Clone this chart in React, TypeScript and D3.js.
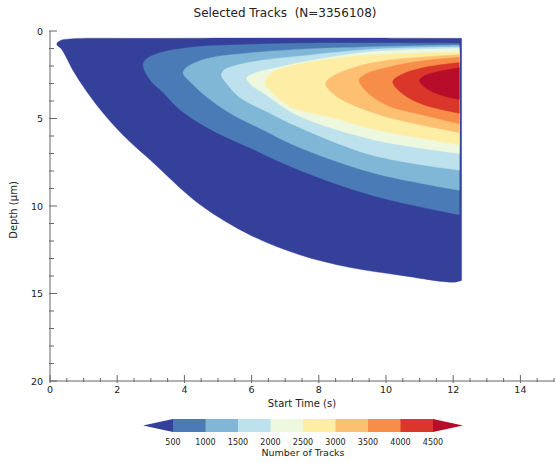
import React from "react";
import * as d3 from "d3";

// ---- data (time in s, depth in µm) ----
const contourLevels = [0, 500, 1000, 1500, 2000, 2500, 3000, 3500, 4000, 4500];
const colorbarTicks = [500, 1000, 1500, 2000, 2500, 3000, 3500, 4000, 4500];
const xTicks = [0, 2, 4, 6, 8, 10, 12, 14];
const yTicks = [0, 5, 10, 15, 20];

const outlineOuter: [number, number][] = [[12.25, 0.42], [8, 0.4], [3, 0.42], [0.6, 0.45], [0.3, 0.55], [0.2, 0.75], [0.35, 1.05], [0.7, 2.3], [1.0, 3.2], [1.5, 4.5], [2.2, 6.0], [3.0, 7.4], [4.45, 9.9], [5.95, 11.65], [7.45, 12.8], [8.9, 13.5], [10.4, 13.95], [12.0, 14.35], [12.25, 14.25]];
const outline500: [number, number][] = [[12.18, 0.7], [9, 0.68], [7.35, 0.7], [5.36, 0.8], [4.37, 0.9], [3.36, 1.2], [2.9, 1.55], [2.77, 1.9], [2.98, 2.8], [3.36, 3.5], [3.87, 4.5], [4.85, 5.7], [5.86, 6.6], [7.35, 7.9], [9.6, 9.4], [12.18, 10.5]];
const outline1000: [number, number][] = [[12.18, 0.8], [10, 0.88], [7.35, 1.05], [5.86, 1.27], [4.85, 1.5], [4.37, 1.77], [4.05, 2.1], [3.96, 2.4], [4.17, 2.9], [4.67, 3.77], [5.36, 4.7], [6.35, 5.66], [7.35, 6.6], [9.6, 8.1], [12.18, 9.1]];
const outline1500: [number, number][] = [[12.18, 0.9], [9.5, 1.05], [7.35, 1.45], [6.35, 1.66], [5.57, 1.94], [5.2, 2.2], [5.1, 2.5], [5.3, 3.1], [5.65, 3.8], [6.55, 4.7], [7.35, 5.45], [9.6, 7.1], [12.18, 7.95]];
const outline2000: [number, number][] = [[12.18, 1.0], [9.5, 1.2], [7.44, 1.8], [6.85, 2.05], [6.1, 2.4], [5.85, 2.7], [6.0, 3.1], [6.4, 3.6], [7.35, 4.8], [9.6, 6.2], [12.18, 7.0]];
const outline2500: [number, number][] = [[12.18, 1.2], [9.0, 1.45], [7.14, 2.0], [6.6, 2.4], [6.4, 2.9], [6.6, 3.5], [7.14, 4.3], [8.5, 5.0], [9.6, 5.6], [12.18, 6.5]];
const outline3000: [number, number][] = [[12.18, 1.35], [10.1, 1.66], [9.1, 2.05], [8.4, 2.6], [8.2, 3.0], [8.5, 3.7], [9.1, 4.3], [10.1, 4.95], [12.18, 5.8]];
const outline3500: [number, number][] = [[12.18, 1.5], [11.1, 1.7], [10.1, 2.05], [9.4, 2.45], [9.2, 2.8], [9.5, 3.6], [10.1, 4.3], [11.1, 4.8], [12.18, 5.3]];
const outline4000: [number, number][] = [[12.18, 1.8], [11.1, 2.1], [10.45, 2.5], [10.2, 2.9], [10.5, 3.6], [11.1, 4.2], [12.18, 4.7]];
const outline4500: [number, number][] = [[12.18, 2.1], [11.6, 2.3], [11.1, 2.6], [11.0, 2.85], [11.3, 3.4], [11.8, 3.75], [12.18, 3.9]];

const outlines = [outlineOuter, outline500, outline1000, outline1500, outline2000, outline2500, outline3000, outline3500, outline4000, outline4500];

const bandColors = ["#34409a", "#4a7bb7", "#80b7d6", "#bde2ee", "#eef8df", "#feeea5", "#fdbf71", "#f68e49", "#da362a", "#b80d2a"];

const FONT = "'DejaVu Sans', sans-serif";

export default function App() {
  const W = 556, H = 463;
  const x = d3.scaleLinear().domain([0, 15]).range([50, 554]);
  const y = d3.scaleLinear().domain([0, 20]).range([31, 381]);

  const line = d3
    .line<[number, number]>()
    .x((d) => x(d[0]))
    .y((d) => y(d[1]))
    .curve(d3.curveCatmullRom.alpha(0.5));

  const xMinor = d3.range(0, 15.01, 0.5).filter((v) => !xTicks.includes(v));
  const yMinor = d3.range(0, 20.01, 1).filter((v) => !yTicks.includes(v));

  // colorbar
  const cb = d3.scaleLinear().domain([500, 4500]).range([173, 433]);
  const cbTop = 419, cbBot = 432, cbArrow = 30;
  const cbMid = (cbTop + cbBot) / 2;

  const axisColor = "#666";
  const textColor = "#222";

  return (
    <svg width={W} height={H} style={{ position: "absolute", left: 0, top: 0, background: "#fff" }}>
      <text x={285} y={17} textAnchor="middle" fontFamily={FONT} fontSize={12} fill={textColor} style={{ whiteSpace: "pre" }}>
        {"Selected Tracks  (N=3356108)"}
      </text>

      {/* contour bands */}
      {outlines.map((o, i) => (
        <path key={contourLevels[i]} d={(line(o) || "") + "Z"} fill={bandColors[i]} stroke={bandColors[i]} strokeWidth={0.4} />
      ))}

      {/* axes */}
      <line x1={x(0)} x2={x(0)} y1={y(0)} y2={y(20)} stroke={axisColor} strokeWidth={1} />
      <line x1={x(0)} x2={x(15)} y1={y(20)} y2={y(20)} stroke={axisColor} strokeWidth={1} />
      {yTicks.map((v) => (
        <g key={"yt" + v}>
          <line x1={x(0) - 1} x2={x(0) + 7} y1={y(v)} y2={y(v)} stroke={axisColor} />
          <text x={x(0) - 7} y={y(v) + 3.5} textAnchor="end" fontFamily={FONT} fontSize={9.5} fill={textColor}>
            {v}
          </text>
        </g>
      ))}
      {yMinor.map((v) => (
        <line key={"ym" + v} x1={x(0) - 1} x2={x(0) + 4} y1={y(v)} y2={y(v)} stroke={axisColor} />
      ))}
      {xTicks.map((v) => (
        <g key={"xt" + v}>
          <line x1={x(v)} x2={x(v)} y1={y(20) + 2} y2={y(20) - 6} stroke={axisColor} />
          <text x={x(v)} y={y(20) + 12} textAnchor="middle" fontFamily={FONT} fontSize={9.5} fill={textColor}>
            {v}
          </text>
        </g>
      ))}
      {xMinor.map((v) => (
        <line key={"xm" + v} x1={x(v)} x2={x(v)} y1={y(20) + 1} y2={y(20) - 3} stroke={axisColor} />
      ))}
      <text x={(x(0) + x(15)) / 2} y={407} textAnchor="middle" fontFamily={FONT} fontSize={10} fill={textColor}>
        Start Time (s)
      </text>
      <text
        transform={`translate(17,${(y(0) + y(20)) / 2 + 4}) rotate(-90)`}
        textAnchor="middle"
        fontFamily={FONT}
        fontSize={10}
        fill={textColor}
      >
        Depth (μm)
      </text>

      {/* colorbar */}
      <path d={`M${cb(500)},${cbTop}L${cb(500) - cbArrow},${cbMid}L${cb(500)},${cbBot}Z`} fill={bandColors[0]} />
      {colorbarTicks.slice(0, -1).map((v, i) => (
        <rect key={"cb" + v} x={cb(v)} y={cbTop} width={cb(v + 500) - cb(v) + 0.5} height={cbBot - cbTop} fill={bandColors[i + 1]} />
      ))}
      <path d={`M${cb(4500)},${cbTop}L${cb(4500) + cbArrow},${cbMid}L${cb(4500)},${cbBot}Z`} fill={bandColors[9]} />
      {colorbarTicks.map((v) => (
        <text key={"cbl" + v} x={cb(v)} y={444.5} textAnchor="middle" fontFamily={FONT} fontSize={8} fill={textColor}>
          {v}
        </text>
      ))}
      <text x={303} y={456} textAnchor="middle" fontFamily={FONT} fontSize={9.5} fill={textColor}>
        Number of Tracks
      </text>
    </svg>
  );
}
